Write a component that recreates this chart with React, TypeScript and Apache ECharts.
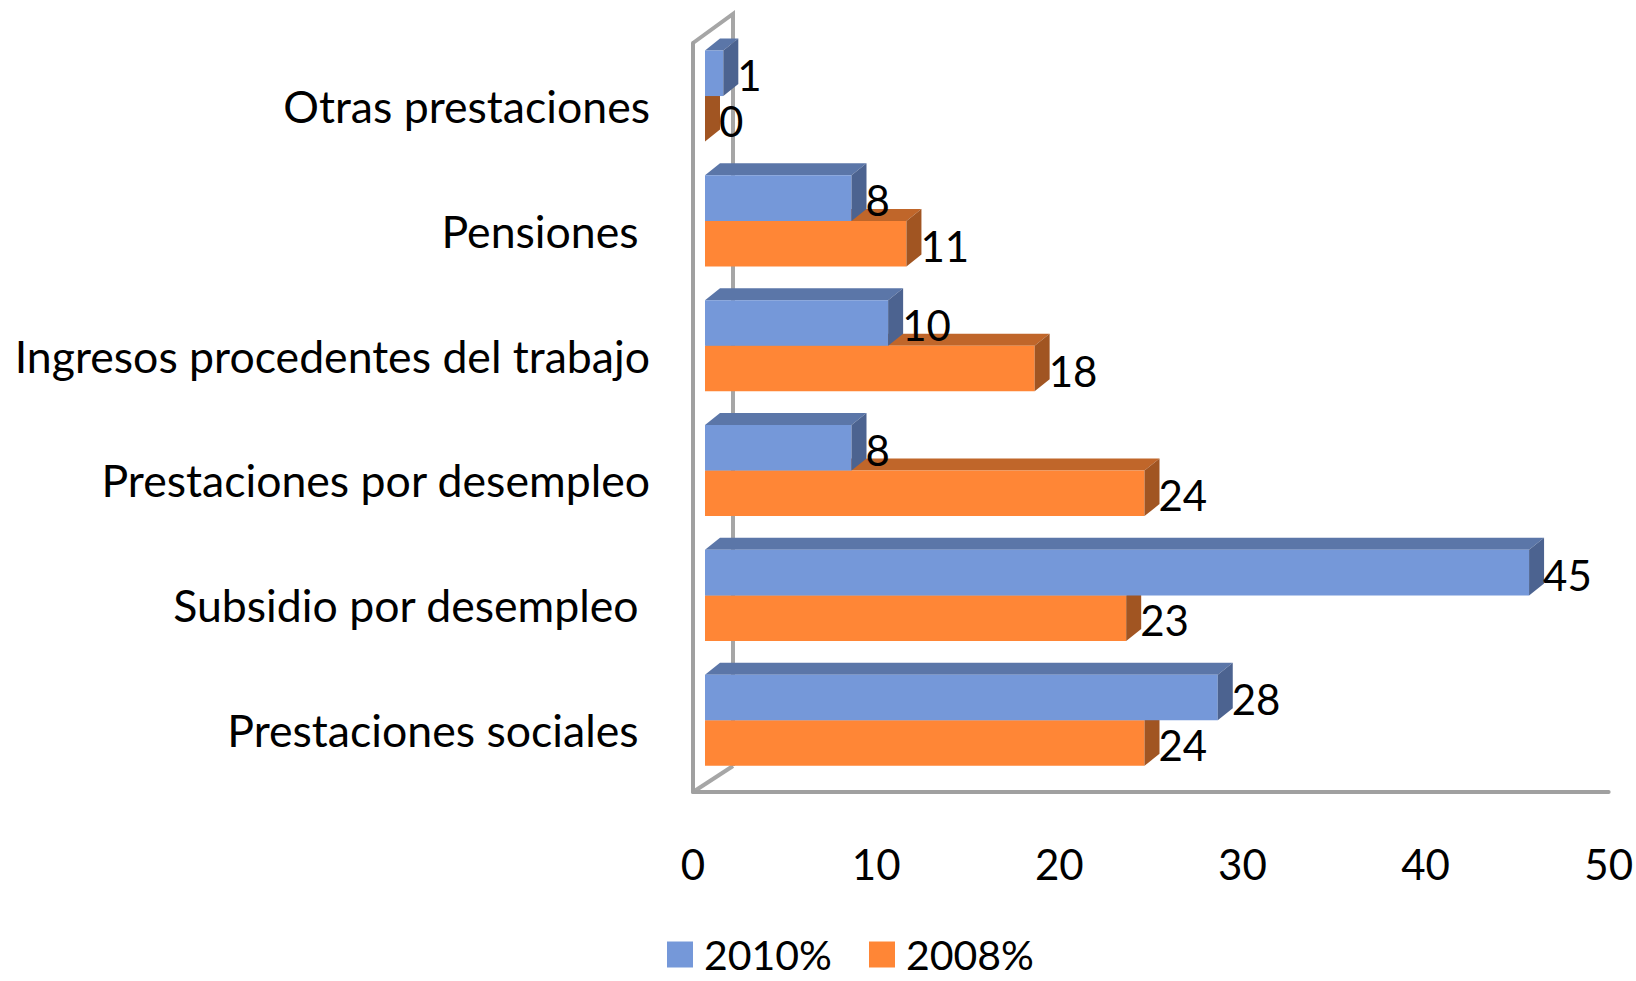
import React, { useEffect, useRef } from "react";
import * as echarts from "echarts";

const categories = [
  "Prestaciones sociales ",
  "Subsidio por desempleo ",
  "Prestaciones por desempleo",
  "Ingresos procedentes del trabajo",
  "Pensiones ",
  "Otras prestaciones",
];
const values2010 = [28, 45, 8, 10, 8, 1];
const values2008 = [24, 23, 24, 18, 11, 0];
const xTicks = [0, 10, 20, 30, 40, 50];

const FONT = "Lato";
const FS_CAT = 44.6;
const FS_NUM = 42;
const DEPTH_X = 15;
const DEPTH_Y = 12;
const GAP_X = 12;

type Shade = { front: string; top: string; side: string };
const blue: Shade = { front: "#7598D9", top: "#5B76A8", side: "#4C6390" };
const orange: Shade = { front: "#FF8636", top: "#C0662A", side: "#A15522" };

function bar3d(shade: Shade, upper: boolean) {
  return (params: any, api: any) => {
    const value = api.value(0);
    const [x1, yc] = api.coord([value, api.value(1)]);
    const [x00] = api.coord([0, api.value(1)]);
    const band = api.size([0, 1])[1];
    const h = band * 0.365;
    const mid = yc - band * 0.075;
    const top = upper ? mid - h : mid;
    const bottom = upper ? mid : mid + h;
    const x0 = x00 + GAP_X;
    const x = x1 + GAP_X;
    const children: any[] = [];
    if (x > x0) {
      children.push({
        type: "polygon",
        shape: { points: [[x0, top], [x0 + DEPTH_X, top - DEPTH_Y], [x + DEPTH_X, top - DEPTH_Y], [x, top]] },
        style: { fill: shade.top },
      });
      children.push({
        type: "rect",
        shape: { x: x0, y: top, width: x - x0, height: bottom - top },
        style: { fill: shade.front },
      });
    }
    children.push({
      type: "polygon",
      shape: { points: [[x, top], [x + DEPTH_X, top - DEPTH_Y], [x + DEPTH_X, bottom - DEPTH_Y], [x, bottom]] },
      style: { fill: shade.side },
    });
    children.push({
      type: "text",
      style: {
        x: x + DEPTH_X - 1,
        y: (top + bottom) / 2 + 2,
        text: String(Math.round(value)),
        fill: "#000",
        font: `${FS_NUM}px ${FONT}`,
        textAlign: "left",
        textVerticalAlign: "middle",
      },
    });
    return { type: "group", children };
  };
}

export default function App() {
  const ref = useRef<HTMLDivElement>(null);
  useEffect(() => {
    document.body.style.margin = "0";
    const chart = echarts.init(ref.current!, null, { renderer: "svg" });
    const wall = { stroke: "#A6A6A6", lineWidth: 4, fill: "none" };
    chart.setOption({
      animation: false,
      backgroundColor: "#fff",
      grid: { left: 693, top: 43, width: 916, height: 749, containLabel: false },
      xAxis: {
        type: "value",
        min: 0,
        max: 50,
        interval: 10,
        splitLine: { show: false },
        axisTick: { show: false },
        axisLine: { show: true, lineStyle: { color: "#A0A0A0", width: 4 } },
        axisLabel: {
          margin: 51,
          color: "#000",
          fontFamily: FONT,
          fontSize: FS_NUM,
          hideOverlap: false,
          showMinLabel: true,
          showMaxLabel: true,
          customValues: xTicks,
        },
      },
      yAxis: {
        type: "category",
        data: categories,
        splitLine: { show: false },
        axisTick: { show: false },
        axisLine: { show: true, lineStyle: { color: "#A0A0A0", width: 4 } },
        axisLabel: {
          margin: 43,
          interval: 0,
          color: "#000",
          fontFamily: FONT,
          fontSize: FS_CAT,
          padding: [4, 0, 0, 0],
        },
      },
      legend: {
        left: 667,
        top: 934,
        padding: 0,
        icon: "rect",
        itemWidth: 26,
        itemHeight: 26,
        itemGap: 37,
        data: ["2010%", "2008%"],
        textStyle: {
          color: "#000",
          fontFamily: FONT,
          fontSize: 41,
          lineHeight: 36,
          padding: [0, 0, 0, 6],
        },
      },
      graphic: [
        { type: "polyline", z: 0, shape: { points: [[693, 43], [733, 14], [733, 766]] }, style: wall },
        { type: "line", z: 0, shape: { x1: 693, y1: 792, x2: 733, y2: 766 }, style: wall },
      ],
      series: [
        {
          name: "2008%",
          type: "custom",
          z: 3,
          itemStyle: { color: orange.front },
          renderItem: bar3d(orange, false),
          data: values2008.map((v, i) => [v, i]),
          encode: { x: 0, y: 1 },
        },
        {
          name: "2010%",
          type: "custom",
          z: 4,
          itemStyle: { color: blue.front },
          renderItem: bar3d(blue, true),
          data: values2010.map((v, i) => [v, i]),
          encode: { x: 0, y: 1 },
        },
      ],
    });
    return () => chart.dispose();
  }, []);
  return <div ref={ref} style={{ width: 1636, height: 981 }} />;
}
